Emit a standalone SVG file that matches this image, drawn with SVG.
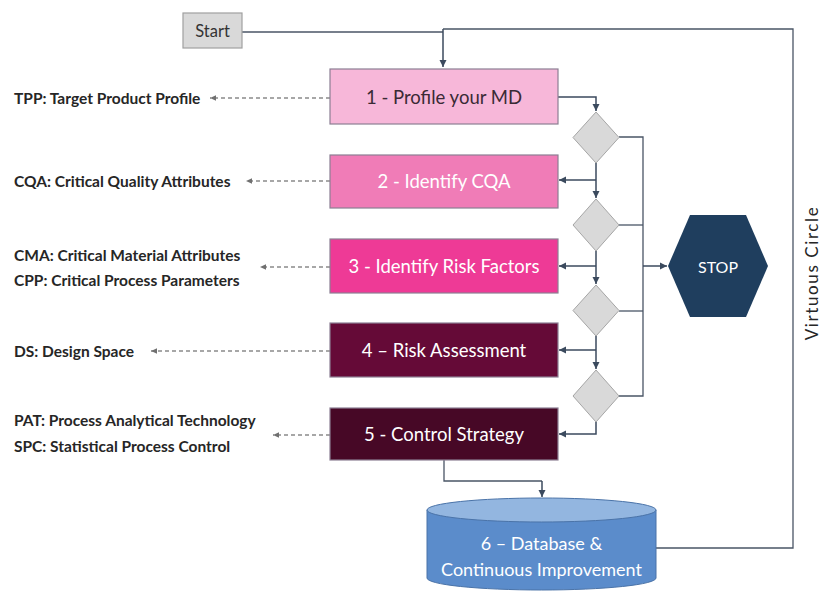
<svg xmlns="http://www.w3.org/2000/svg" width="821" height="594" viewBox="0 0 821 594">
<defs>
<marker id="ah" markerWidth="8" markerHeight="8" refX="7" refY="4" orient="auto" markerUnits="userSpaceOnUse">
<path d="M0,0.5 L7,4 L0,7.5 Z" fill="#3b4a5e"/>
</marker>
<marker id="ahg" markerWidth="7" markerHeight="7" refX="6" refY="3.5" orient="auto" markerUnits="userSpaceOnUse">
<path d="M0,0.8 L6,3.5 L0,6.2 Z" fill="#707070"/>
</marker>
</defs>
<style>
.box{stroke:#8c7f93;stroke-width:1.2}
.bt{font-family:Lato,"Liberation Sans",sans-serif;font-size:18.5px;text-anchor:middle;dominant-baseline:central;fill:#ffffff}
.lbl{font-family:Lato,"Liberation Sans",sans-serif;font-size:15.5px;font-weight:bold;fill:#262626;dominant-baseline:central}
.dia{fill:#d9d9d9;stroke:#a6a6a6;stroke-width:1}
.c{fill:none;stroke:#3b4a5e;stroke-width:1.5}
.t{fill:none;stroke:#4a5566;stroke-width:1.3}
.d{fill:none;stroke:#8a8a8a;stroke-width:1.3;stroke-dasharray:4 3}
</style>
<rect width="821" height="594" fill="#ffffff"/>
<g id="connectors">
<path class="t" d="M242,32 H443"/>
<path class="c" d="M443,29 V67" marker-end="url(#ah)"/>
<path class="t" d="M443,29 H793 V548 H656"/>
<path class="c" d="M558,97 H596 V111" marker-end="url(#ah)"/>
<path class="c" d="M596,163 V198" marker-end="url(#ah)"/>
<path class="c" d="M596,180 H559" marker-end="url(#ah)"/>
<path class="c" d="M596,251 V284" marker-end="url(#ah)"/>
<path class="c" d="M596,266 H559" marker-end="url(#ah)"/>
<path class="c" d="M596,335 V369" marker-end="url(#ah)"/>
<path class="c" d="M596,350 H559" marker-end="url(#ah)"/>
<path class="c" d="M596,422 V434 H559" marker-end="url(#ah)"/>
<path class="t" d="M619,137 H643 V396 H619"/>
<path class="t" d="M619,225 H643"/>
<path class="t" d="M619,311 H643"/>
<path class="c" d="M643,266 H667" marker-end="url(#ah)"/>
<path class="t" d="M444,460 V481 H542"/>
<path class="c" d="M542,481 V497" marker-end="url(#ah)"/>
<path class="d" d="M330,98 H210" marker-end="url(#ahg)"/>
<path class="d" d="M330,181 H246" marker-end="url(#ahg)"/>
<path class="d" d="M330,267 H260" marker-end="url(#ahg)"/>
<path class="d" d="M330,351 H151" marker-end="url(#ahg)"/>
<path class="d" d="M330,435 H273" marker-end="url(#ahg)"/>
</g>
<g id="start">
<rect x="183" y="13" width="59" height="35" fill="#d9d9d9" stroke="#a0a0a0" stroke-width="1.2"/>
<text x="212.5" y="31" class="bt" style="fill:#333333;font-size:16.5px">Start</text>
</g>
<g id="step1">
<rect class="box" x="330" y="69" width="228" height="55" fill="#f7b7d9"/>
<text x="444" y="97" class="bt" style="fill:#3a2a35">1 - Profile your MD</text>
</g>
<g id="step2">
<rect class="box" x="330" y="155" width="228" height="53" fill="#f07cb7"/>
<text x="444" y="181" class="bt">2 - Identify CQA</text>
</g>
<g id="step3">
<rect class="box" x="330" y="239" width="228" height="54" fill="#ee3a96"/>
<text x="444" y="266" class="bt">3 - Identify Risk Factors</text>
</g>
<g id="step4">
<rect class="box" x="330" y="323" width="228" height="54" fill="#650a37"/>
<text x="444" y="350" class="bt">4 – Risk Assessment</text>
</g>
<g id="step5">
<rect class="box" x="330" y="408" width="228" height="52" fill="#470826"/>
<text x="444" y="434" class="bt">5 - Control Strategy</text>
</g>
<g id="decision1"><polygon class="dia" points="596,112 619,137.5 596,163 573,137.5"/></g>
<g id="decision2"><polygon class="dia" points="596,199 619,225 596,251 573,225"/></g>
<g id="decision3"><polygon class="dia" points="596,285 619,310.5 596,336 573,310.5"/></g>
<g id="decision4"><polygon class="dia" points="596,370 619,396 596,422 573,396"/></g>
<g id="stop">
<polygon points="668,266 690,215 746,215 768,266 746,317 690,317" fill="#1f3e5e"/>
<text x="718" y="266" class="bt" style="font-size:16px">STOP</text>
</g>
<g id="database">
<path d="M427,510 V578 A114.5,12 0 0 0 656,578 V510 Z" fill="#5b8ccb" stroke="#4a73a8" stroke-width="1"/>
<ellipse cx="541.5" cy="510" rx="114.5" ry="12" fill="#93b6e0" stroke="#4a73a8" stroke-width="1"/>
<text x="541.5" y="543" class="bt" style="font-size:18px">6 – Database &amp;</text>
<text x="541.5" y="569" class="bt" style="font-size:18px">Continuous Improvement</text>
</g>
<g id="labels">
<text x="14" y="98" class="lbl">TPP: Target Product Profile</text>
<text x="14" y="181" class="lbl">CQA: Critical Quality Attributes</text>
<text x="14" y="255" class="lbl">CMA: Critical Material Attributes</text>
<text x="14" y="280" class="lbl">CPP: Critical Process Parameters</text>
<text x="14" y="351" class="lbl">DS: Design Space</text>
<text x="14" y="420" class="lbl">PAT: Process Analytical Technology</text>
<text x="14" y="446" class="lbl">SPC: Statistical Process Control</text>
<text x="0" y="0" transform="translate(811,273) rotate(-90)" class="bt" style="fill:#262626;font-size:17px;letter-spacing:1.6px">Virtuous Circle</text>
</g>
</svg>
